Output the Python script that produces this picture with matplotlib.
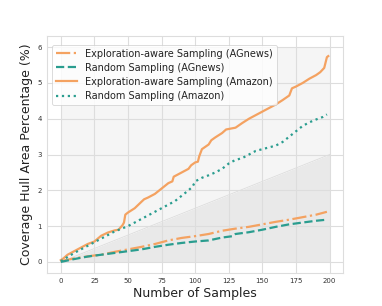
import matplotlib
matplotlib.use("Agg")
import matplotlib.pyplot as plt
import numpy as np

ORANGE = "#F4A261"
TEAL = "#2A9D8F"

# Exploration-aware sampling, Amazon (solid)
amz_exp_x = [0, 2, 5, 10, 15, 20, 25, 30, 35, 40, 43, 46, 47, 48, 50, 55, 60, 62, 65, 70,
             75, 80, 83, 84, 90, 95, 97, 100, 102, 103, 105, 110, 112, 115, 120, 123, 130,
             135, 140, 145, 150, 155, 160, 165, 170, 172, 175, 180, 185, 190, 193, 196, 198, 199]
amz_exp_y = [0.05, 0.1, 0.2, 0.3, 0.4, 0.5, 0.57, 0.73, 0.82, 0.88, 0.9, 1.03, 1.1, 1.32,
             1.38, 1.5, 1.68, 1.75, 1.8, 1.9, 2.05, 2.2, 2.25, 2.38, 2.5, 2.6, 2.7, 2.78,
             2.8, 2.95, 3.15, 3.28, 3.4, 3.48, 3.6, 3.7, 3.75, 3.88, 4.0, 4.1, 4.2, 4.3,
             4.4, 4.52, 4.65, 4.85, 4.9, 5.0, 5.12, 5.22, 5.3, 5.42, 5.72, 5.75]

# Random sampling, Amazon (dotted)
amz_rnd_x = [0, 10, 20, 25, 30, 40, 50, 60, 70, 75, 80, 85, 90, 95, 98, 100, 105, 110, 115,
             120, 125, 130, 135, 140, 145, 150, 155, 160, 165, 170, 175, 180, 185, 190, 195, 198]
amz_rnd_y = [0.02, 0.25, 0.45, 0.55, 0.65, 0.85, 1.0, 1.2, 1.4, 1.5, 1.6, 1.7, 1.85, 2.0,
             2.1, 2.25, 2.35, 2.42, 2.5, 2.6, 2.75, 2.85, 2.9, 3.0, 3.1, 3.15, 3.2, 3.25,
             3.35, 3.5, 3.65, 3.8, 3.9, 3.98, 4.05, 4.12]

# Exploration-aware sampling, AGnews (dash-dot)
ag_exp_x = [0, 10, 25, 30, 40, 50, 60, 70, 75, 80, 90, 100, 110, 120, 130, 140, 150, 160,
            170, 180, 190, 198]
ag_exp_y = [0.02, 0.1, 0.18, 0.2, 0.28, 0.35, 0.42, 0.5, 0.55, 0.6, 0.67, 0.72, 0.78, 0.87,
            0.93, 0.98, 1.05, 1.12, 1.18, 1.25, 1.32, 1.4]

# Random sampling, AGnews (dashed)
ag_rnd_x = [0, 10, 20, 30, 40, 50, 60, 70, 80, 90, 100, 110, 120, 128, 130, 140, 150, 160,
            170, 180, 190, 198]
ag_rnd_y = [0.0, 0.08, 0.15, 0.2, 0.25, 0.3, 0.35, 0.42, 0.48, 0.53, 0.57, 0.6, 0.68, 0.72,
            0.78, 0.83, 0.9, 0.98, 1.05, 1.1, 1.15, 1.18]

band_x = [0, 200]
band_mid = [0, 3]
band_top = [6, 6]

fig = plt.figure(figsize=(3.82, 3.06), dpi=100)
ax = fig.add_axes([0.124, 0.109, 0.774, 0.772])

ax.fill_between(band_x, [0, 0], band_mid, color="#e9e9e9", lw=0, zorder=0)
ax.fill_between(band_x, band_mid, band_top, color="#f5f5f5", lw=0, zorder=0)
ax.plot(band_x, band_mid, color="#dddddd", lw=0.6, zorder=0.5)

ax.plot(ag_exp_x, ag_exp_y, color=ORANGE, ls="-.", lw=1.6, label="Exploration-aware Sampling (AGnews)")
ax.plot(ag_rnd_x, ag_rnd_y, color=TEAL, ls="--", lw=1.6, label="Random Sampling (AGnews)")
ax.plot(amz_exp_x, amz_exp_y, color=ORANGE, ls="-", lw=1.6, label="Exploration-aware Sampling (Amazon)")
ax.plot(amz_rnd_x, amz_rnd_y, color=TEAL, ls=":", lw=1.6, label="Random Sampling (Amazon)")

ax.set_xlim(-10, 210)
ax.set_ylim(-0.3, 6.3)
ax.set_xticks(np.arange(0, 201, 25))
ax.set_yticks(np.arange(0, 7, 1))
ax.tick_params(labelsize=5, length=0, pad=4, colors="#333333")
ax.grid(True, color="#dddddd", lw=0.8, zorder=0.2)
ax.set_axisbelow(True)
for sp in ax.spines.values():
    sp.set_color("#dddddd")
    sp.set_linewidth(0.8)

ax.set_xlabel("Number of Samples", fontsize=9, color="#222222", labelpad=2)
ax.set_ylabel("Coverage Hull Area Percentage (%)", fontsize=9, color="#222222", labelpad=3)

leg = ax.legend(loc="upper left", fontsize=7.0, frameon=True, handlelength=2.1,
                borderpad=0.4, labelspacing=0.42, handletextpad=0.9,
                bbox_to_anchor=(0.0, 0.985))
leg.get_frame().set_edgecolor("#cccccc")
leg.get_frame().set_linewidth(0.6)
for t in leg.get_texts():
    t.set_color("#222222")

fig.savefig("out.png", dpi=100)
